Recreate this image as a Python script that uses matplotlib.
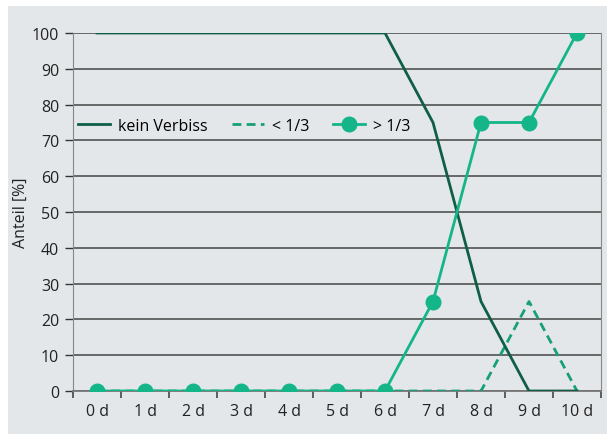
import matplotlib.pyplot as plt
import matplotlib.patches as patches
import numpy as np

# data
tage = ['0 d', '1 d', '2 d', '3 d', '4 d', '5 d', '6 d', '7 d', '8 d', '9 d', '10 d']
kein_verbiss = [100, 100, 100, 100, 100, 100, 100, 75, 25, 0, 0]
unter_drittel = [0, 0, 0, 0, 0, 0, 0, 0, 0, 25, 0]
ueber_drittel = [0, 0, 0, 0, 0, 0, 0, 25, 75, 75, 100]

bg = '#e4e7ea'
c_kein = '#0e5f45'
c_unter = '#17a077'
c_ueber = '#14b589'

plt.rcParams['font.family'] = ['Open Sans', 'DejaVu Sans']
fs = 11.5

fig = plt.figure(figsize=(6.07, 4.35), dpi=100)
fig.patches.append(patches.Rectangle((8 / 607, 0), 1, 1 - 7 / 435, transform=fig.transFigure,
                                     facecolor=bg, edgecolor='none', zorder=-10))
ax = fig.add_axes([73 / 607, 1 - 392 / 435, 528 / 607, 358 / 435])
ax.set_facecolor(bg)

x = np.arange(len(tage))
l_unter, = ax.plot(x, unter_drittel, color=c_unter, lw=2, ls=(0, (3.2, 1.9)), label='< 1/3', zorder=3)
l_kein, = ax.plot(x, kein_verbiss, color=c_kein, lw=2, label='kein Verbiss', zorder=4)
l_ueber, = ax.plot(x, ueber_drittel, color=c_ueber, lw=2, marker='o', ms=10.5, label='> 1/3', zorder=5)

ax.set_xlim(-0.5, len(tage) - 0.5)
ax.set_ylim(0, 100)
ax.set_yticks(range(0, 101, 10))
ax.set_xticks(x)
ax.set_xticklabels(tage)
ax.set_xticks(np.arange(-0.5, len(tage), 1), minor=True)
ax.tick_params(axis='x', which='major', length=0, pad=9, labelsize=fs, colors='#222222')
ax.tick_params(axis='x', which='minor', length=5, width=1.2, color='#444444', direction='out')
ax.tick_params(axis='y', length=6, width=1, color='#333333', labelsize=fs, labelcolor='#222222', pad=4)

ax.grid(axis='y', color='#444444', lw=1.1)
ax.set_axisbelow(True)
ax.spines['top'].set_visible(False)
ax.spines['left'].set_color('#888888')
ax.spines['right'].set_color('#888888')
ax.spines['bottom'].set_color('#777777')
ax.spines['bottom'].set_linewidth(1.3)

ax.set_ylabel('Anteil [%]', fontsize=fs, color='#222222', labelpad=2)

ax.legend([l_kein, l_unter, l_ueber], ['kein Verbiss', '< 1/3', '> 1/3'], loc='center left',
          bbox_to_anchor=(-0.005, 0.74), ncol=3, frameon=True, facecolor=bg, edgecolor='none',
          framealpha=1, fontsize=fs, handlelength=2.0, columnspacing=1.5, handletextpad=0.5,
          borderpad=0.2, borderaxespad=0.3)

fig.savefig('out.png', dpi=100)
